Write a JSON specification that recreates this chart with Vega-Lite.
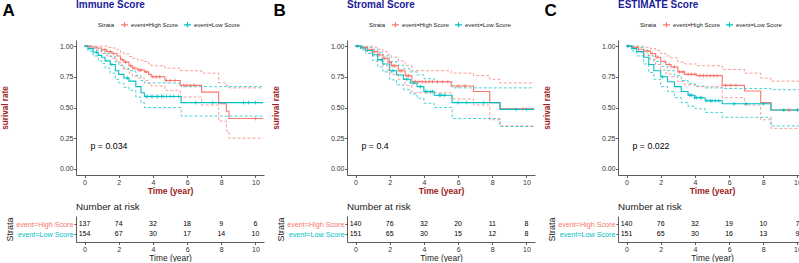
{
"$schema": "https://vega.github.io/schema/vega-lite/v6.json",
"padding": {"left": 0, "top": 0, "right": 0, "bottom": 0},
"config": {"view": {"stroke": null}, "font": "Liberation Sans",
 "axis": {"grid": false, "domainColor": "#333333", "tickColor": "#333333", "labelColor": "#333333", "labelFontSize": 7, "tickSize": 2.5, "labelPadding": 0.5, "domainWidth": 0.8, "tickWidth": 0.8},
 "axisX": {"labelAngle": 0}},
"spacing": 5,
"resolve": {"scale": {"color": "independent"}, "legend": {"color": "independent"}},
"hconcat": [
{
 "title": {"text": "A", "anchor": "start", "frame": "bounds", "fontSize": 17, "fontWeight": "bold", "color": "#000000", "offset": -20, "dx": 2},
 "spacing": 7,
 "resolve": {"scale": {"color": "independent"}, "legend": {"color": "independent"}},
 "vconcat": [
  {
   "width": 188, "height": 135,
   "title": {"text": "Immune Score", "anchor": "start", "frame": "group", "fontSize": 10, "fontWeight": "bold", "color": "#1C1C9C", "offset": 10},
   "encoding": {
    "x": {"field": "t", "type": "quantitative", "scale": {"domain": [-0.5, 10.5], "nice": false, "zero": false}, "axis": {"values": [0,2,4,6,8,10], "title": "Time (year)", "titleColor": "#A01C1C", "titleFontWeight": "bold", "titleFontSize": 8.6, "titlePadding": 1}},
    "y": {"field": "s", "type": "quantitative", "scale": {"domain": [-0.05, 1.05], "nice": false, "zero": false}, "axis": {"values": [0,0.25,0.5,0.75,1], "format": ".2f", "title": ["surival rate", "", "", "", ""], "titleBaseline": "bottom", "titleLineHeight": 12, "titleColor": "#A01C1C", "titleFontWeight": "bold", "titleFontSize": 8.2, "titlePadding": 2}},
    "color": {"field": "strata", "type": "nominal", "scale": {"domain": ["event=High Score", "event=Low Score"], "range": ["#F8766D", "#00BFC4"]},
     "legend": {"orient": "none", "legendX": 22, "legendY": -20, "direction": "horizontal", "title": "Strata", "titleOrient": "left", "titleFontSize": 6, "titleFontWeight": "normal", "titleColor": "#222222", "titlePadding": 5, "labelFontSize": 5.9, "labelColor": "#222222", "labelOffset": 2, "symbolType": "M-1,0L1,0M0,-0.7L0,0.7", "symbolSize": 50, "symbolStrokeWidth": 1.2, "columnPadding": 3}}
   },
   "layer": [
    {"data": {"name": "km"}, "transform": [{"filter": "datum.panel === 'A'"}], "mark": {"type": "line", "interpolate": "step-after", "strokeDash": [3, 2], "strokeWidth": 0.7}, "encoding": {"y": {"field": "hi", "type": "quantitative"}}},
    {"data": {"name": "km"}, "transform": [{"filter": "datum.panel === 'A'"}], "mark": {"type": "line", "interpolate": "step-after", "strokeDash": [3, 2], "strokeWidth": 0.7}, "encoding": {"y": {"field": "lo", "type": "quantitative"}}},
    {"data": {"name": "km"}, "transform": [{"filter": "datum.panel === 'A'"}], "mark": {"type": "line", "interpolate": "step-after", "strokeWidth": 1.1}},
    {"data": {"name": "cen"}, "transform": [{"filter": "datum.panel === 'A'"}], "mark": {"type": "point", "shape": "M-1,0L1,0M0,-1L0,1", "filled": false, "size": 14, "strokeWidth": 0.8, "opacity": 1}},
    {"data": {"name": "pv"}, "transform": [{"filter": "datum.panel === 'A'"}], "mark": {"type": "text", "align": "left", "fontSize": 8.8}, "encoding": {"text": {"field": "label"}, "color": {"value": "#000000"}}}
   ]
  },
  {
   "width": 188, "height": 26,
   "title": {"text": "Number at risk", "anchor": "start", "frame": "group", "fontSize": 9.8, "fontWeight": "normal", "color": "#222222", "offset": 4},
   "data": {"name": "risk"}, "transform": [{"filter": "datum.panel === 'A'"}],
   "mark": {"type": "text", "fontSize": 7, "color": "#000000"},
   "encoding": {
    "x": {"field": "t", "type": "quantitative", "scale": {"domain": [-0.5, 10.5], "nice": false, "zero": false}, "axis": {"values": [0,2,4,6,8,10], "title": "Time (year)", "titleFontSize": 8.4, "titleColor": "#222222", "titleFontWeight": "normal", "titlePadding": 1}},
    "y": {"field": "strata", "type": "nominal", "scale": {"type": "point", "padding": 0.8, "domain": ["event=High Score", "event=Low Score"]}, "axis": {"title": "Strata", "titleFontSize": 9, "titleFontWeight": "normal", "titleColor": "#222222", "titlePadding": 1, "labelFontSize": 7.2, "labelColor": {"condition": {"test": "datum.value === 'event=High Score'", "value": "#F8766D"}, "value": "#00BFC4"}, "tickSize": 2, "labelPadding": 1}},
    "text": {"field": "n", "type": "quantitative"}
   }
  }
 ]
},
{
 "title": {"text": "B", "anchor": "start", "frame": "bounds", "fontSize": 17, "fontWeight": "bold", "color": "#000000", "offset": -20, "dx": 2},
 "spacing": 7,
 "resolve": {"scale": {"color": "independent"}, "legend": {"color": "independent"}},
 "vconcat": [
  {
   "width": 188, "height": 135,
   "title": {"text": "Stromal Score", "anchor": "start", "frame": "group", "fontSize": 10, "fontWeight": "bold", "color": "#1C1C9C", "offset": 10},
   "encoding": {
    "x": {"field": "t", "type": "quantitative", "scale": {"domain": [-0.5, 10.5], "nice": false, "zero": false}, "axis": {"values": [0,2,4,6,8,10], "title": "Time (year)", "titleColor": "#A01C1C", "titleFontWeight": "bold", "titleFontSize": 8.6, "titlePadding": 1}},
    "y": {"field": "s", "type": "quantitative", "scale": {"domain": [-0.05, 1.05], "nice": false, "zero": false}, "axis": {"values": [0,0.25,0.5,0.75,1], "format": ".2f", "title": ["surival rate", "", "", "", ""], "titleBaseline": "bottom", "titleLineHeight": 12, "titleColor": "#A01C1C", "titleFontWeight": "bold", "titleFontSize": 8.2, "titlePadding": 2}},
    "color": {"field": "strata", "type": "nominal", "scale": {"domain": ["event=High Score", "event=Low Score"], "range": ["#F8766D", "#00BFC4"]},
     "legend": {"orient": "none", "legendX": 22, "legendY": -20, "direction": "horizontal", "title": "Strata", "titleOrient": "left", "titleFontSize": 6, "titleFontWeight": "normal", "titleColor": "#222222", "titlePadding": 5, "labelFontSize": 5.9, "labelColor": "#222222", "labelOffset": 2, "symbolType": "M-1,0L1,0M0,-0.7L0,0.7", "symbolSize": 50, "symbolStrokeWidth": 1.2, "columnPadding": 3}}
   },
   "layer": [
    {"data": {"name": "km"}, "transform": [{"filter": "datum.panel === 'B'"}], "mark": {"type": "line", "interpolate": "step-after", "strokeDash": [3, 2], "strokeWidth": 0.7}, "encoding": {"y": {"field": "hi", "type": "quantitative"}}},
    {"data": {"name": "km"}, "transform": [{"filter": "datum.panel === 'B'"}], "mark": {"type": "line", "interpolate": "step-after", "strokeDash": [3, 2], "strokeWidth": 0.7}, "encoding": {"y": {"field": "lo", "type": "quantitative"}}},
    {"data": {"name": "km"}, "transform": [{"filter": "datum.panel === 'B'"}], "mark": {"type": "line", "interpolate": "step-after", "strokeWidth": 1.1}},
    {"data": {"name": "cen"}, "transform": [{"filter": "datum.panel === 'B'"}], "mark": {"type": "point", "shape": "M-1,0L1,0M0,-1L0,1", "filled": false, "size": 14, "strokeWidth": 0.8, "opacity": 1}},
    {"data": {"name": "pv"}, "transform": [{"filter": "datum.panel === 'B'"}], "mark": {"type": "text", "align": "left", "fontSize": 8.8}, "encoding": {"text": {"field": "label"}, "color": {"value": "#000000"}}}
   ]
  },
  {
   "width": 188, "height": 26,
   "title": {"text": "Number at risk", "anchor": "start", "frame": "group", "fontSize": 9.8, "fontWeight": "normal", "color": "#222222", "offset": 4},
   "data": {"name": "risk"}, "transform": [{"filter": "datum.panel === 'B'"}],
   "mark": {"type": "text", "fontSize": 7, "color": "#000000"},
   "encoding": {
    "x": {"field": "t", "type": "quantitative", "scale": {"domain": [-0.5, 10.5], "nice": false, "zero": false}, "axis": {"values": [0,2,4,6,8,10], "title": "Time (year)", "titleFontSize": 8.4, "titleColor": "#222222", "titleFontWeight": "normal", "titlePadding": 1}},
    "y": {"field": "strata", "type": "nominal", "scale": {"type": "point", "padding": 0.8, "domain": ["event=High Score", "event=Low Score"]}, "axis": {"title": "Strata", "titleFontSize": 9, "titleFontWeight": "normal", "titleColor": "#222222", "titlePadding": 1, "labelFontSize": 7.2, "labelColor": {"condition": {"test": "datum.value === 'event=High Score'", "value": "#F8766D"}, "value": "#00BFC4"}, "tickSize": 2, "labelPadding": 1}},
    "text": {"field": "n", "type": "quantitative"}
   }
  }
 ]
},
{
 "title": {"text": "C", "anchor": "start", "frame": "bounds", "fontSize": 17, "fontWeight": "bold", "color": "#000000", "offset": -20, "dx": 2},
 "spacing": 7,
 "resolve": {"scale": {"color": "independent"}, "legend": {"color": "independent"}},
 "vconcat": [
  {
   "width": 188, "height": 135,
   "title": {"text": "ESTIMATE Score", "anchor": "start", "frame": "group", "fontSize": 10, "fontWeight": "bold", "color": "#1C1C9C", "offset": 10},
   "encoding": {
    "x": {"field": "t", "type": "quantitative", "scale": {"domain": [-0.5, 10.5], "nice": false, "zero": false}, "axis": {"values": [0,2,4,6,8,10], "title": "Time (year)", "titleColor": "#A01C1C", "titleFontWeight": "bold", "titleFontSize": 8.6, "titlePadding": 1}},
    "y": {"field": "s", "type": "quantitative", "scale": {"domain": [-0.05, 1.05], "nice": false, "zero": false}, "axis": {"values": [0,0.25,0.5,0.75,1], "format": ".2f", "title": ["surival rate", "", "", "", ""], "titleBaseline": "bottom", "titleLineHeight": 12, "titleColor": "#A01C1C", "titleFontWeight": "bold", "titleFontSize": 8.2, "titlePadding": 2}},
    "color": {"field": "strata", "type": "nominal", "scale": {"domain": ["event=High Score", "event=Low Score"], "range": ["#F8766D", "#00BFC4"]},
     "legend": {"orient": "none", "legendX": 22, "legendY": -20, "direction": "horizontal", "title": "Strata", "titleOrient": "left", "titleFontSize": 6, "titleFontWeight": "normal", "titleColor": "#222222", "titlePadding": 5, "labelFontSize": 5.9, "labelColor": "#222222", "labelOffset": 2, "symbolType": "M-1,0L1,0M0,-0.7L0,0.7", "symbolSize": 50, "symbolStrokeWidth": 1.2, "columnPadding": 3}}
   },
   "layer": [
    {"data": {"name": "km"}, "transform": [{"filter": "datum.panel === 'C'"}], "mark": {"type": "line", "interpolate": "step-after", "strokeDash": [3, 2], "strokeWidth": 0.7}, "encoding": {"y": {"field": "hi", "type": "quantitative"}}},
    {"data": {"name": "km"}, "transform": [{"filter": "datum.panel === 'C'"}], "mark": {"type": "line", "interpolate": "step-after", "strokeDash": [3, 2], "strokeWidth": 0.7}, "encoding": {"y": {"field": "lo", "type": "quantitative"}}},
    {"data": {"name": "km"}, "transform": [{"filter": "datum.panel === 'C'"}], "mark": {"type": "line", "interpolate": "step-after", "strokeWidth": 1.1}},
    {"data": {"name": "cen"}, "transform": [{"filter": "datum.panel === 'C'"}], "mark": {"type": "point", "shape": "M-1,0L1,0M0,-1L0,1", "filled": false, "size": 14, "strokeWidth": 0.8, "opacity": 1}},
    {"data": {"name": "pv"}, "transform": [{"filter": "datum.panel === 'C'"}], "mark": {"type": "text", "align": "left", "fontSize": 8.8}, "encoding": {"text": {"field": "label"}, "color": {"value": "#000000"}}}
   ]
  },
  {
   "width": 188, "height": 26,
   "title": {"text": "Number at risk", "anchor": "start", "frame": "group", "fontSize": 9.8, "fontWeight": "normal", "color": "#222222", "offset": 4},
   "data": {"name": "risk"}, "transform": [{"filter": "datum.panel === 'C'"}],
   "mark": {"type": "text", "fontSize": 7, "color": "#000000"},
   "encoding": {
    "x": {"field": "t", "type": "quantitative", "scale": {"domain": [-0.5, 10.5], "nice": false, "zero": false}, "axis": {"values": [0,2,4,6,8,10], "title": "Time (year)", "titleFontSize": 8.4, "titleColor": "#222222", "titleFontWeight": "normal", "titlePadding": 1}},
    "y": {"field": "strata", "type": "nominal", "scale": {"type": "point", "padding": 0.8, "domain": ["event=High Score", "event=Low Score"]}, "axis": {"title": "Strata", "titleFontSize": 9, "titleFontWeight": "normal", "titleColor": "#222222", "titlePadding": 1, "labelFontSize": 7.2, "labelColor": {"condition": {"test": "datum.value === 'event=High Score'", "value": "#F8766D"}, "value": "#00BFC4"}, "tickSize": 2, "labelPadding": 1}},
    "text": {"field": "n", "type": "quantitative"}
   }
  }
 ]
}
],
"datasets": {
"pv": [
 {"panel": "A", "t": 0.35, "s": 0.19, "label": "p = 0.034"},
 {"panel": "B", "t": 0.35, "s": 0.19, "label": "p = 0.4"},
 {"panel": "C", "t": 0.35, "s": 0.19, "label": "p = 0.022"}
],
"risk": [
 {"panel": "A", "strata": "event=High Score", "t": 0, "n": 137},
 {"panel": "A", "strata": "event=High Score", "t": 2, "n": 74},
 {"panel": "A", "strata": "event=High Score", "t": 4, "n": 32},
 {"panel": "A", "strata": "event=High Score", "t": 6, "n": 18},
 {"panel": "A", "strata": "event=High Score", "t": 8, "n": 9},
 {"panel": "A", "strata": "event=High Score", "t": 10, "n": 6},
 {"panel": "A", "strata": "event=Low Score", "t": 0, "n": 154},
 {"panel": "A", "strata": "event=Low Score", "t": 2, "n": 67},
 {"panel": "A", "strata": "event=Low Score", "t": 4, "n": 30},
 {"panel": "A", "strata": "event=Low Score", "t": 6, "n": 17},
 {"panel": "A", "strata": "event=Low Score", "t": 8, "n": 14},
 {"panel": "A", "strata": "event=Low Score", "t": 10, "n": 10},
 {"panel": "B", "strata": "event=High Score", "t": 0, "n": 140},
 {"panel": "B", "strata": "event=High Score", "t": 2, "n": 76},
 {"panel": "B", "strata": "event=High Score", "t": 4, "n": 32},
 {"panel": "B", "strata": "event=High Score", "t": 6, "n": 20},
 {"panel": "B", "strata": "event=High Score", "t": 8, "n": 11},
 {"panel": "B", "strata": "event=High Score", "t": 10, "n": 8},
 {"panel": "B", "strata": "event=Low Score", "t": 0, "n": 151},
 {"panel": "B", "strata": "event=Low Score", "t": 2, "n": 65},
 {"panel": "B", "strata": "event=Low Score", "t": 4, "n": 30},
 {"panel": "B", "strata": "event=Low Score", "t": 6, "n": 15},
 {"panel": "B", "strata": "event=Low Score", "t": 8, "n": 12},
 {"panel": "B", "strata": "event=Low Score", "t": 10, "n": 8},
 {"panel": "C", "strata": "event=High Score", "t": 0, "n": 140},
 {"panel": "C", "strata": "event=High Score", "t": 2, "n": 76},
 {"panel": "C", "strata": "event=High Score", "t": 4, "n": 32},
 {"panel": "C", "strata": "event=High Score", "t": 6, "n": 19},
 {"panel": "C", "strata": "event=High Score", "t": 8, "n": 10},
 {"panel": "C", "strata": "event=High Score", "t": 10, "n": 7},
 {"panel": "C", "strata": "event=Low Score", "t": 0, "n": 151},
 {"panel": "C", "strata": "event=Low Score", "t": 2, "n": 65},
 {"panel": "C", "strata": "event=Low Score", "t": 4, "n": 30},
 {"panel": "C", "strata": "event=Low Score", "t": 6, "n": 16},
 {"panel": "C", "strata": "event=Low Score", "t": 8, "n": 13},
 {"panel": "C", "strata": "event=Low Score", "t": 10, "n": 9}
],
"km": [
 {"panel": "A", "strata": "event=High Score", "t": 0, "s": 1, "lo": 1, "hi": 1},
 {"panel": "A", "strata": "event=High Score", "t": 0.3, "s": 0.993, "lo": 0.98, "hi": 1},
 {"panel": "A", "strata": "event=High Score", "t": 0.7, "s": 0.985, "lo": 0.96, "hi": 1},
 {"panel": "A", "strata": "event=High Score", "t": 1.0, "s": 0.97, "lo": 0.94, "hi": 1},
 {"panel": "A", "strata": "event=High Score", "t": 1.3, "s": 0.955, "lo": 0.92, "hi": 0.99},
 {"panel": "A", "strata": "event=High Score", "t": 1.6, "s": 0.94, "lo": 0.9, "hi": 0.985},
 {"panel": "A", "strata": "event=High Score", "t": 1.9, "s": 0.92, "lo": 0.87, "hi": 0.97},
 {"panel": "A", "strata": "event=High Score", "t": 2.1, "s": 0.89, "lo": 0.84, "hi": 0.95},
 {"panel": "A", "strata": "event=High Score", "t": 2.3, "s": 0.87, "lo": 0.81, "hi": 0.935},
 {"panel": "A", "strata": "event=High Score", "t": 2.6, "s": 0.84, "lo": 0.78, "hi": 0.915},
 {"panel": "A", "strata": "event=High Score", "t": 2.8, "s": 0.82, "lo": 0.755, "hi": 0.9},
 {"panel": "A", "strata": "event=High Score", "t": 3.1, "s": 0.805, "lo": 0.74, "hi": 0.885},
 {"panel": "A", "strata": "event=High Score", "t": 3.5, "s": 0.79, "lo": 0.72, "hi": 0.875},
 {"panel": "A", "strata": "event=High Score", "t": 3.75, "s": 0.77, "lo": 0.695, "hi": 0.855},
 {"panel": "A", "strata": "event=High Score", "t": 3.9, "s": 0.75, "lo": 0.675, "hi": 0.84},
 {"panel": "A", "strata": "event=High Score", "t": 4.7, "s": 0.72, "lo": 0.64, "hi": 0.82},
 {"panel": "A", "strata": "event=High Score", "t": 5.6, "s": 0.68, "lo": 0.585, "hi": 0.8},
 {"panel": "A", "strata": "event=High Score", "t": 6.85, "s": 0.625, "lo": 0.52, "hi": 0.78},
 {"panel": "A", "strata": "event=High Score", "t": 7.85, "s": 0.53, "lo": 0.39, "hi": 0.7},
 {"panel": "A", "strata": "event=High Score", "t": 8.3, "s": 0.47, "lo": 0.31, "hi": 0.68},
 {"panel": "A", "strata": "event=High Score", "t": 8.45, "s": 0.41, "lo": 0.25, "hi": 0.66},
 {"panel": "A", "strata": "event=High Score", "t": 10.45, "s": 0.41, "lo": 0.25, "hi": 0.66},
 {"panel": "A", "strata": "event=Low Score", "t": 0, "s": 1, "lo": 1, "hi": 1},
 {"panel": "A", "strata": "event=Low Score", "t": 0.2, "s": 0.98, "lo": 0.96, "hi": 1},
 {"panel": "A", "strata": "event=Low Score", "t": 0.5, "s": 0.95, "lo": 0.92, "hi": 0.985},
 {"panel": "A", "strata": "event=Low Score", "t": 0.8, "s": 0.925, "lo": 0.88, "hi": 0.97},
 {"panel": "A", "strata": "event=Low Score", "t": 1.0, "s": 0.91, "lo": 0.86, "hi": 0.96},
 {"panel": "A", "strata": "event=Low Score", "t": 1.2, "s": 0.88, "lo": 0.82, "hi": 0.94},
 {"panel": "A", "strata": "event=Low Score", "t": 1.5, "s": 0.85, "lo": 0.78, "hi": 0.915},
 {"panel": "A", "strata": "event=Low Score", "t": 1.8, "s": 0.8, "lo": 0.73, "hi": 0.87},
 {"panel": "A", "strata": "event=Low Score", "t": 2.0, "s": 0.77, "lo": 0.7, "hi": 0.845},
 {"panel": "A", "strata": "event=Low Score", "t": 2.3, "s": 0.74, "lo": 0.665, "hi": 0.82},
 {"panel": "A", "strata": "event=Low Score", "t": 2.6, "s": 0.715, "lo": 0.64, "hi": 0.8},
 {"panel": "A", "strata": "event=Low Score", "t": 3.0, "s": 0.67, "lo": 0.585, "hi": 0.76},
 {"panel": "A", "strata": "event=Low Score", "t": 3.3, "s": 0.62, "lo": 0.54, "hi": 0.72},
 {"panel": "A", "strata": "event=Low Score", "t": 3.5, "s": 0.59, "lo": 0.5, "hi": 0.7},
 {"panel": "A", "strata": "event=Low Score", "t": 5.65, "s": 0.54, "lo": 0.43, "hi": 0.67},
 {"panel": "A", "strata": "event=Low Score", "t": 10.45, "s": 0.54, "lo": 0.43, "hi": 0.67},
 {"panel": "B", "strata": "event=High Score", "t": 0, "s": 1, "lo": 1, "hi": 1},
 {"panel": "B", "strata": "event=High Score", "t": 0.3, "s": 0.99, "lo": 0.98, "hi": 1},
 {"panel": "B", "strata": "event=High Score", "t": 0.7, "s": 0.975, "lo": 0.95, "hi": 1},
 {"panel": "B", "strata": "event=High Score", "t": 1.0, "s": 0.955, "lo": 0.92, "hi": 0.99},
 {"panel": "B", "strata": "event=High Score", "t": 1.3, "s": 0.93, "lo": 0.88, "hi": 0.975},
 {"panel": "B", "strata": "event=High Score", "t": 1.6, "s": 0.9, "lo": 0.84, "hi": 0.955},
 {"panel": "B", "strata": "event=High Score", "t": 1.9, "s": 0.87, "lo": 0.8, "hi": 0.93},
 {"panel": "B", "strata": "event=High Score", "t": 2.1, "s": 0.84, "lo": 0.77, "hi": 0.91},
 {"panel": "B", "strata": "event=High Score", "t": 2.5, "s": 0.8, "lo": 0.73, "hi": 0.88},
 {"panel": "B", "strata": "event=High Score", "t": 2.9, "s": 0.76, "lo": 0.68, "hi": 0.84},
 {"panel": "B", "strata": "event=High Score", "t": 3.3, "s": 0.71, "lo": 0.62, "hi": 0.8},
 {"panel": "B", "strata": "event=High Score", "t": 5.6, "s": 0.675, "lo": 0.57, "hi": 0.78},
 {"panel": "B", "strata": "event=High Score", "t": 6.9, "s": 0.63, "lo": 0.52, "hi": 0.76},
 {"panel": "B", "strata": "event=High Score", "t": 7.85, "s": 0.54, "lo": 0.4, "hi": 0.73},
 {"panel": "B", "strata": "event=High Score", "t": 8.45, "s": 0.49, "lo": 0.35, "hi": 0.7},
 {"panel": "B", "strata": "event=High Score", "t": 10.45, "s": 0.49, "lo": 0.35, "hi": 0.7},
 {"panel": "B", "strata": "event=Low Score", "t": 0, "s": 1, "lo": 1, "hi": 1},
 {"panel": "B", "strata": "event=Low Score", "t": 0.3, "s": 0.985, "lo": 0.97, "hi": 1},
 {"panel": "B", "strata": "event=Low Score", "t": 0.6, "s": 0.965, "lo": 0.94, "hi": 0.99},
 {"panel": "B", "strata": "event=Low Score", "t": 1.0, "s": 0.93, "lo": 0.88, "hi": 0.975},
 {"panel": "B", "strata": "event=Low Score", "t": 1.3, "s": 0.89, "lo": 0.83, "hi": 0.95},
 {"panel": "B", "strata": "event=Low Score", "t": 1.6, "s": 0.855, "lo": 0.79, "hi": 0.92},
 {"panel": "B", "strata": "event=Low Score", "t": 2.0, "s": 0.8, "lo": 0.725, "hi": 0.875},
 {"panel": "B", "strata": "event=Low Score", "t": 2.4, "s": 0.765, "lo": 0.685, "hi": 0.845},
 {"panel": "B", "strata": "event=Low Score", "t": 2.8, "s": 0.73, "lo": 0.645, "hi": 0.815},
 {"panel": "B", "strata": "event=Low Score", "t": 3.2, "s": 0.7, "lo": 0.61, "hi": 0.79},
 {"panel": "B", "strata": "event=Low Score", "t": 3.6, "s": 0.67, "lo": 0.575, "hi": 0.765},
 {"panel": "B", "strata": "event=Low Score", "t": 4.0, "s": 0.63, "lo": 0.535, "hi": 0.735},
 {"panel": "B", "strata": "event=Low Score", "t": 4.6, "s": 0.6, "lo": 0.5, "hi": 0.71},
 {"panel": "B", "strata": "event=Low Score", "t": 5.65, "s": 0.54, "lo": 0.41, "hi": 0.66},
 {"panel": "B", "strata": "event=Low Score", "t": 8.45, "s": 0.485, "lo": 0.345, "hi": 0.66},
 {"panel": "B", "strata": "event=Low Score", "t": 10.45, "s": 0.485, "lo": 0.345, "hi": 0.66},
 {"panel": "C", "strata": "event=High Score", "t": 0, "s": 1, "lo": 1, "hi": 1},
 {"panel": "C", "strata": "event=High Score", "t": 0.3, "s": 0.99, "lo": 0.98, "hi": 1},
 {"panel": "C", "strata": "event=High Score", "t": 0.7, "s": 0.975, "lo": 0.95, "hi": 1},
 {"panel": "C", "strata": "event=High Score", "t": 1.0, "s": 0.96, "lo": 0.925, "hi": 0.99},
 {"panel": "C", "strata": "event=High Score", "t": 1.4, "s": 0.94, "lo": 0.89, "hi": 0.98},
 {"panel": "C", "strata": "event=High Score", "t": 1.7, "s": 0.91, "lo": 0.85, "hi": 0.965},
 {"panel": "C", "strata": "event=High Score", "t": 2.0, "s": 0.875, "lo": 0.805, "hi": 0.94},
 {"panel": "C", "strata": "event=High Score", "t": 2.3, "s": 0.85, "lo": 0.775, "hi": 0.92},
 {"panel": "C", "strata": "event=High Score", "t": 2.6, "s": 0.83, "lo": 0.75, "hi": 0.905},
 {"panel": "C", "strata": "event=High Score", "t": 3.0, "s": 0.79, "lo": 0.71, "hi": 0.87},
 {"panel": "C", "strata": "event=High Score", "t": 3.4, "s": 0.77, "lo": 0.685, "hi": 0.855},
 {"panel": "C", "strata": "event=High Score", "t": 4.1, "s": 0.76, "lo": 0.67, "hi": 0.84},
 {"panel": "C", "strata": "event=High Score", "t": 5.6, "s": 0.68, "lo": 0.58, "hi": 0.81},
 {"panel": "C", "strata": "event=High Score", "t": 6.9, "s": 0.635, "lo": 0.52, "hi": 0.78},
 {"panel": "C", "strata": "event=High Score", "t": 7.85, "s": 0.54, "lo": 0.4, "hi": 0.74},
 {"panel": "C", "strata": "event=High Score", "t": 8.45, "s": 0.48, "lo": 0.33, "hi": 0.715},
 {"panel": "C", "strata": "event=High Score", "t": 10.45, "s": 0.48, "lo": 0.33, "hi": 0.715},
 {"panel": "C", "strata": "event=Low Score", "t": 0, "s": 1, "lo": 1, "hi": 1},
 {"panel": "C", "strata": "event=Low Score", "t": 0.3, "s": 0.98, "lo": 0.96, "hi": 1},
 {"panel": "C", "strata": "event=Low Score", "t": 0.6, "s": 0.955, "lo": 0.92, "hi": 0.99},
 {"panel": "C", "strata": "event=Low Score", "t": 1.0, "s": 0.91, "lo": 0.855, "hi": 0.965},
 {"panel": "C", "strata": "event=Low Score", "t": 1.3, "s": 0.85, "lo": 0.785, "hi": 0.92},
 {"panel": "C", "strata": "event=Low Score", "t": 1.6, "s": 0.8, "lo": 0.73, "hi": 0.875},
 {"panel": "C", "strata": "event=Low Score", "t": 2.0, "s": 0.75, "lo": 0.67, "hi": 0.835},
 {"panel": "C", "strata": "event=Low Score", "t": 2.4, "s": 0.71, "lo": 0.63, "hi": 0.8},
 {"panel": "C", "strata": "event=Low Score", "t": 2.8, "s": 0.67, "lo": 0.58, "hi": 0.76},
 {"panel": "C", "strata": "event=Low Score", "t": 3.2, "s": 0.63, "lo": 0.54, "hi": 0.72},
 {"panel": "C", "strata": "event=Low Score", "t": 3.6, "s": 0.6, "lo": 0.51, "hi": 0.695},
 {"panel": "C", "strata": "event=Low Score", "t": 4.0, "s": 0.58, "lo": 0.49, "hi": 0.675},
 {"panel": "C", "strata": "event=Low Score", "t": 4.6, "s": 0.555, "lo": 0.46, "hi": 0.66},
 {"panel": "C", "strata": "event=Low Score", "t": 5.6, "s": 0.53, "lo": 0.42, "hi": 0.655},
 {"panel": "C", "strata": "event=Low Score", "t": 8.45, "s": 0.48, "lo": 0.35, "hi": 0.645},
 {"panel": "C", "strata": "event=Low Score", "t": 10.45, "s": 0.48, "lo": 0.35, "hi": 0.645}
],
"cen": [
 {"panel": "A", "strata": "event=High Score", "t": 1.2, "s": 0.97},
 {"panel": "A", "strata": "event=High Score", "t": 1.5, "s": 0.955},
 {"panel": "A", "strata": "event=High Score", "t": 1.7, "s": 0.94},
 {"panel": "A", "strata": "event=High Score", "t": 2.2, "s": 0.89},
 {"panel": "A", "strata": "event=High Score", "t": 2.4, "s": 0.87},
 {"panel": "A", "strata": "event=High Score", "t": 2.7, "s": 0.84},
 {"panel": "A", "strata": "event=High Score", "t": 2.9, "s": 0.82},
 {"panel": "A", "strata": "event=High Score", "t": 3.2, "s": 0.805},
 {"panel": "A", "strata": "event=High Score", "t": 3.3, "s": 0.805},
 {"panel": "A", "strata": "event=High Score", "t": 3.6, "s": 0.79},
 {"panel": "A", "strata": "event=High Score", "t": 4.0, "s": 0.75},
 {"panel": "A", "strata": "event=High Score", "t": 4.2, "s": 0.75},
 {"panel": "A", "strata": "event=High Score", "t": 4.4, "s": 0.75},
 {"panel": "A", "strata": "event=High Score", "t": 4.8, "s": 0.72},
 {"panel": "A", "strata": "event=High Score", "t": 5.0, "s": 0.72},
 {"panel": "A", "strata": "event=High Score", "t": 5.3, "s": 0.72},
 {"panel": "A", "strata": "event=High Score", "t": 5.8, "s": 0.68},
 {"panel": "A", "strata": "event=High Score", "t": 6.0, "s": 0.68},
 {"panel": "A", "strata": "event=High Score", "t": 6.2, "s": 0.68},
 {"panel": "A", "strata": "event=High Score", "t": 6.4, "s": 0.68},
 {"panel": "A", "strata": "event=High Score", "t": 10.0, "s": 0.41},
 {"panel": "A", "strata": "event=Low Score", "t": 0.7, "s": 0.95},
 {"panel": "A", "strata": "event=Low Score", "t": 1.6, "s": 0.85},
 {"panel": "A", "strata": "event=Low Score", "t": 2.5, "s": 0.74},
 {"panel": "A", "strata": "event=Low Score", "t": 3.6, "s": 0.59},
 {"panel": "A", "strata": "event=Low Score", "t": 3.7, "s": 0.59},
 {"panel": "A", "strata": "event=Low Score", "t": 3.9, "s": 0.59},
 {"panel": "A", "strata": "event=Low Score", "t": 4.0, "s": 0.59},
 {"panel": "A", "strata": "event=Low Score", "t": 4.2, "s": 0.59},
 {"panel": "A", "strata": "event=Low Score", "t": 4.3, "s": 0.59},
 {"panel": "A", "strata": "event=Low Score", "t": 4.5, "s": 0.59},
 {"panel": "A", "strata": "event=Low Score", "t": 4.6, "s": 0.59},
 {"panel": "A", "strata": "event=Low Score", "t": 4.8, "s": 0.59},
 {"panel": "A", "strata": "event=Low Score", "t": 5.0, "s": 0.59},
 {"panel": "A", "strata": "event=Low Score", "t": 5.2, "s": 0.59},
 {"panel": "A", "strata": "event=Low Score", "t": 5.5, "s": 0.59},
 {"panel": "A", "strata": "event=Low Score", "t": 6.5, "s": 0.54},
 {"panel": "A", "strata": "event=Low Score", "t": 7.5, "s": 0.54},
 {"panel": "A", "strata": "event=Low Score", "t": 9.3, "s": 0.54},
 {"panel": "A", "strata": "event=Low Score", "t": 9.6, "s": 0.54},
 {"panel": "A", "strata": "event=Low Score", "t": 10.0, "s": 0.54},
 {"panel": "B", "strata": "event=High Score", "t": 1.1, "s": 0.955},
 {"panel": "B", "strata": "event=High Score", "t": 1.4, "s": 0.93},
 {"panel": "B", "strata": "event=High Score", "t": 1.7, "s": 0.9},
 {"panel": "B", "strata": "event=High Score", "t": 2.0, "s": 0.87},
 {"panel": "B", "strata": "event=High Score", "t": 2.2, "s": 0.84},
 {"panel": "B", "strata": "event=High Score", "t": 2.3, "s": 0.84},
 {"panel": "B", "strata": "event=High Score", "t": 2.6, "s": 0.8},
 {"panel": "B", "strata": "event=High Score", "t": 2.7, "s": 0.8},
 {"panel": "B", "strata": "event=High Score", "t": 3.0, "s": 0.76},
 {"panel": "B", "strata": "event=High Score", "t": 3.1, "s": 0.76},
 {"panel": "B", "strata": "event=High Score", "t": 3.5, "s": 0.71},
 {"panel": "B", "strata": "event=High Score", "t": 3.7, "s": 0.71},
 {"panel": "B", "strata": "event=High Score", "t": 3.9, "s": 0.71},
 {"panel": "B", "strata": "event=High Score", "t": 4.1, "s": 0.71},
 {"panel": "B", "strata": "event=High Score", "t": 4.3, "s": 0.71},
 {"panel": "B", "strata": "event=High Score", "t": 4.5, "s": 0.71},
 {"panel": "B", "strata": "event=High Score", "t": 4.8, "s": 0.71},
 {"panel": "B", "strata": "event=High Score", "t": 5.1, "s": 0.71},
 {"panel": "B", "strata": "event=High Score", "t": 5.4, "s": 0.71},
 {"panel": "B", "strata": "event=High Score", "t": 6.0, "s": 0.675},
 {"panel": "B", "strata": "event=High Score", "t": 6.4, "s": 0.675},
 {"panel": "B", "strata": "event=High Score", "t": 9.8, "s": 0.49},
 {"panel": "B", "strata": "event=Low Score", "t": 0.1, "s": 1},
 {"panel": "B", "strata": "event=Low Score", "t": 1.5, "s": 0.89},
 {"panel": "B", "strata": "event=Low Score", "t": 2.2, "s": 0.8},
 {"panel": "B", "strata": "event=Low Score", "t": 3.0, "s": 0.73},
 {"panel": "B", "strata": "event=Low Score", "t": 3.4, "s": 0.7},
 {"panel": "B", "strata": "event=Low Score", "t": 3.8, "s": 0.67},
 {"panel": "B", "strata": "event=Low Score", "t": 4.1, "s": 0.63},
 {"panel": "B", "strata": "event=Low Score", "t": 4.2, "s": 0.63},
 {"panel": "B", "strata": "event=Low Score", "t": 4.4, "s": 0.63},
 {"panel": "B", "strata": "event=Low Score", "t": 4.5, "s": 0.63},
 {"panel": "B", "strata": "event=Low Score", "t": 4.9, "s": 0.6},
 {"panel": "B", "strata": "event=Low Score", "t": 5.0, "s": 0.6},
 {"panel": "B", "strata": "event=Low Score", "t": 5.2, "s": 0.6},
 {"panel": "B", "strata": "event=Low Score", "t": 6.0, "s": 0.54},
 {"panel": "B", "strata": "event=Low Score", "t": 6.5, "s": 0.54},
 {"panel": "B", "strata": "event=Low Score", "t": 7.5, "s": 0.54},
 {"panel": "B", "strata": "event=Low Score", "t": 9.4, "s": 0.485},
 {"panel": "B", "strata": "event=Low Score", "t": 10.0, "s": 0.485},
 {"panel": "C", "strata": "event=High Score", "t": 1.2, "s": 0.96},
 {"panel": "C", "strata": "event=High Score", "t": 1.5, "s": 0.94},
 {"panel": "C", "strata": "event=High Score", "t": 1.8, "s": 0.91},
 {"panel": "C", "strata": "event=High Score", "t": 2.2, "s": 0.875},
 {"panel": "C", "strata": "event=High Score", "t": 2.5, "s": 0.85},
 {"panel": "C", "strata": "event=High Score", "t": 2.8, "s": 0.83},
 {"panel": "C", "strata": "event=High Score", "t": 3.1, "s": 0.79},
 {"panel": "C", "strata": "event=High Score", "t": 3.3, "s": 0.79},
 {"panel": "C", "strata": "event=High Score", "t": 3.6, "s": 0.77},
 {"panel": "C", "strata": "event=High Score", "t": 3.8, "s": 0.77},
 {"panel": "C", "strata": "event=High Score", "t": 4.0, "s": 0.77},
 {"panel": "C", "strata": "event=High Score", "t": 4.3, "s": 0.76},
 {"panel": "C", "strata": "event=High Score", "t": 4.5, "s": 0.76},
 {"panel": "C", "strata": "event=High Score", "t": 4.7, "s": 0.76},
 {"panel": "C", "strata": "event=High Score", "t": 4.9, "s": 0.76},
 {"panel": "C", "strata": "event=High Score", "t": 5.1, "s": 0.76},
 {"panel": "C", "strata": "event=High Score", "t": 5.3, "s": 0.76},
 {"panel": "C", "strata": "event=High Score", "t": 5.8, "s": 0.68},
 {"panel": "C", "strata": "event=High Score", "t": 6.1, "s": 0.68},
 {"panel": "C", "strata": "event=High Score", "t": 6.4, "s": 0.68},
 {"panel": "C", "strata": "event=High Score", "t": 9.5, "s": 0.48},
 {"panel": "C", "strata": "event=Low Score", "t": 0.1, "s": 1},
 {"panel": "C", "strata": "event=Low Score", "t": 2.1, "s": 0.75},
 {"panel": "C", "strata": "event=Low Score", "t": 3.7, "s": 0.6},
 {"panel": "C", "strata": "event=Low Score", "t": 3.8, "s": 0.6},
 {"panel": "C", "strata": "event=Low Score", "t": 4.0, "s": 0.58},
 {"panel": "C", "strata": "event=Low Score", "t": 4.1, "s": 0.58},
 {"panel": "C", "strata": "event=Low Score", "t": 4.3, "s": 0.58},
 {"panel": "C", "strata": "event=Low Score", "t": 4.4, "s": 0.58},
 {"panel": "C", "strata": "event=Low Score", "t": 4.7, "s": 0.555},
 {"panel": "C", "strata": "event=Low Score", "t": 4.9, "s": 0.555},
 {"panel": "C", "strata": "event=Low Score", "t": 5.0, "s": 0.555},
 {"panel": "C", "strata": "event=Low Score", "t": 5.2, "s": 0.555},
 {"panel": "C", "strata": "event=Low Score", "t": 5.4, "s": 0.555},
 {"panel": "C", "strata": "event=Low Score", "t": 6.3, "s": 0.53},
 {"panel": "C", "strata": "event=Low Score", "t": 7.0, "s": 0.53},
 {"panel": "C", "strata": "event=Low Score", "t": 8.0, "s": 0.53},
 {"panel": "C", "strata": "event=Low Score", "t": 9.2, "s": 0.48},
 {"panel": "C", "strata": "event=Low Score", "t": 10.0, "s": 0.48}
]
}
}
